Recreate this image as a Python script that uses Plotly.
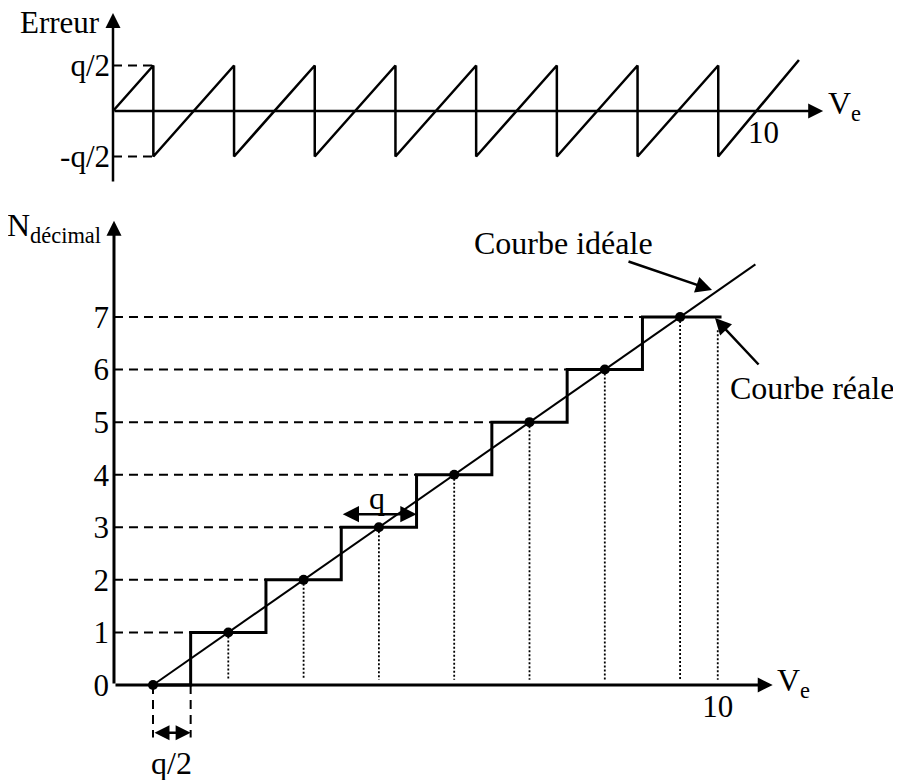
import plotly.graph_objects as go

# ---------------- DATA ----------------
# Bottom panel: transfer characteristic of a 3-bit converter (x in units of q)
codes = [0, 1, 2, 3, 4, 5, 6, 7]
code_labels = ["0", "1", "2", "3", "4", "5", "6", "7"]
ideal_points_x = [0, 1, 2, 3, 4, 5, 6, 7]
ideal_points_y = [0, 1, 2, 3, 4, 5, 6, 7]
transitions_x = [0.5, 1.5, 2.5, 3.5, 4.5, 5.5, 6.5]
stair_x = [0, 0.5, 0.5, 1.5, 1.5, 2.5, 2.5, 3.5, 3.5, 4.5, 4.5, 5.5, 5.5, 6.5, 6.5, 7.55]
stair_y = [0, 0, 1, 1, 2, 2, 3, 3, 4, 4, 5, 5, 6, 6, 7, 7]
ideal_line_x = [0, 8]
ideal_line_y = [0, 8]
full_scale_x = 7.5
full_scale_top = 6.75
full_scale_label = "10"

# Top panel: quantisation error (x in units of q, error in units of q)
err_x = [0, 0.5, 0.5, 1.5, 1.5, 2.5, 2.5, 3.5, 3.5, 4.5, 4.5, 5.5, 5.5, 6.5, 6.5, 7.5, 7.5, 8.5]
err_y = [0, 0.5, -0.5, 0.5, -0.5, 0.5, -0.5, 0.5, -0.5, 0.5, -0.5, 0.5, -0.5, 0.5, -0.5, 0.5, -0.5, 0.56]
err_ticks = [0.5, -0.5]
err_tick_labels = ["q/2", "-q/2"]
err_full_scale_x = 8
err_full_scale_label = "10"

# ---------------- STYLE / LAYOUT ----------------
PAGE_MARGIN = 8                      # default body margin of the html page
W, H = 901 - PAGE_MARGIN, 780 - PAGE_MARGIN
FONT = "Liberation Serif"
FS_TICK = 31
FS_TEXT = 32
BLACK = "black"


def make_range(origin_px, scale_px, size_px, invert=False):
    """Axis range so that data 0 sits at origin_px (window pixels) with scale_px per unit."""
    o = origin_px - PAGE_MARGIN
    if invert:  # vertical axis, pixels grow downward
        return [(o - size_px) / scale_px, o / scale_px]
    return [-o / scale_px, (size_px - o) / scale_px]


# bottom panel scales
bx_range = make_range(153, 75.3, W)
by_range = make_range(685, 52.57, H, invert=True)
# top panel scales
tx_range = make_range(113, 80.7, W)
ty_range = make_range(111, 91.0, H, invert=True)

B_YAXIS_X = -0.518      # x position of bottom vertical axis
B_XAXIS_END = 8.23
B_YAXIS_END = 8.83
T_XAXIS_END = 8.80
T_YAXIS_END = 1.077
T_YAXIS_START = -0.79


def frac(v, r):
    return (v - r[0]) / (r[1] - r[0])


fig = go.Figure()

# ---- top panel ----
fig.add_trace(go.Scatter(x=err_x, y=err_y, mode="lines", xaxis="x2", yaxis="y2",
                         line=dict(color=BLACK, width=2.5), hoverinfo="skip"))
dx, dy = [], []
for t in err_ticks:
    dx += [0, err_x[1], None]
    dy += [t, t, None]
fig.add_trace(go.Scatter(x=dx, y=dy, mode="lines", xaxis="x2", yaxis="y2",
                         line=dict(color=BLACK, width=2, dash="9px,6px"), hoverinfo="skip"))

# ---- bottom panel ----
hx, hy = [], []
for c, tx in zip(codes[1:], transitions_x):
    hx += [B_YAXIS_X, tx, None]
    hy += [c, c, None]
for v in [ideal_points_x[0], transitions_x[0]]:
    hx += [v, v, None]
    hy += [0, -1.0, None]
fig.add_trace(go.Scatter(x=hx, y=hy, mode="lines", line=dict(color=BLACK, width=2, dash="9px,6px"),
                         hoverinfo="skip"))
vx, vy = [], []
for px_, py_ in zip(ideal_points_x[1:], ideal_points_y[1:]):
    vx += [px_, px_, None]
    vy += [py_, 0.1, None]
vx += [full_scale_x, full_scale_x, None]
vy += [full_scale_top, 0.1, None]
fig.add_trace(go.Scatter(x=vx, y=vy, mode="lines", line=dict(color=BLACK, width=1.8, dash="2px,2px"),
                         hoverinfo="skip"))
fig.add_trace(go.Scatter(x=stair_x, y=stair_y, mode="lines", line=dict(color=BLACK, width=3),
                         hoverinfo="skip"))
fig.add_trace(go.Scatter(x=ideal_line_x, y=ideal_line_y, mode="lines", line=dict(color=BLACK, width=2),
                         hoverinfo="skip"))
fig.add_trace(go.Scatter(x=ideal_points_x, y=ideal_points_y, mode="markers",
                         marker=dict(color=BLACK, size=10), hoverinfo="skip"))

ann = []


def arrow(x, y, ax, ay, xr, yr, both=False, width=2.5, size=1.2):
    d = dict(x=x, y=y, ax=ax, ay=ay, xref=xr, yref=yr, axref=xr, ayref=yr, text="",
             showarrow=True, arrowhead=2, arrowsize=size, arrowwidth=width, arrowcolor=BLACK,
             standoff=0, startstandoff=0)
    if both:
        d.update(arrowside="end+start", startarrowhead=2, startarrowsize=size)
    ann.append(d)


def label(text, x, y, xr, yr, xanchor="center", yanchor="middle", size=FS_TEXT):
    ann.append(dict(text=text, x=x, y=y, xref=xr, yref=yr, showarrow=False,
                    xanchor=xanchor, yanchor=yanchor, font=dict(family=FONT, size=size, color=BLACK)))


# axes arrows
arrow(0, T_YAXIS_END, 0, T_YAXIS_START, "x2", "y2", width=2.5, size=1.2)
arrow(T_XAXIS_END, 0, 0, 0, "x2", "y2", width=2.5, size=1.2)
arrow(B_YAXIS_X, B_YAXIS_END, B_YAXIS_X, 0, "x", "y", width=3, size=1.0)
arrow(B_XAXIS_END, 0, B_YAXIS_X, 0, "x", "y", width=3, size=1.0)

# q and q/2 double arrows
arrow(transitions_x[3], 3.25, transitions_x[2], 3.25, "x", "y", both=True, width=2.5, size=1.3)
arrow(transitions_x[0], -0.91, ideal_points_x[0], -0.91, "x", "y", both=True, width=2.5, size=1.2)

# annotation arrows
arrow(7.424, 7.514, 6.295, 8.065, "x", "y", width=2.5, size=1.3)
arrow(7.463, 6.981, 8.061, 6.068, "x", "y", width=2.5, size=1.3)

# texts
label("Erreur", -0.14, 0.97, "x2", "y2", xanchor="right", size=31)
label("V<sub>e</sub>", 8.835, 0.06, "x2", "y2", xanchor="left")
label("N<sub>décimal</sub>", -0.664, 8.70, "x", "y", xanchor="right")
label("V<sub>e</sub>", 8.26, 0.04, "x", "y", xanchor="left")
label("q", 2.975, 3.56, "x", "y")
label("q/2", 0.252, -1.48, "x", "y")
label("Courbe idéale", 5.452, 8.41, "x", "y")
label("Courbe réale", 8.75, 5.65, "x", "y")

tickfont = dict(family=FONT, size=FS_TICK, color=BLACK)
common = dict(showgrid=False, zeroline=False, showline=False, ticks="", fixedrange=True)

fig.update_layout(
    width=W, height=H, margin=dict(l=0, r=0, t=0, b=0),
    paper_bgcolor="white", plot_bgcolor="rgba(0,0,0,0)", showlegend=False,
    xaxis=dict(range=bx_range, domain=[0, 1], anchor="free", position=frac(0, by_range),
               tickvals=[full_scale_x], ticktext=[full_scale_label], tickfont=tickfont, **common),
    yaxis=dict(range=by_range, domain=[0, 1], anchor="free", position=frac(B_YAXIS_X, bx_range),
               tickvals=codes, ticktext=code_labels, tickfont=tickfont, ticklabelstandoff=5, **common),
    xaxis2=dict(range=tx_range, domain=[0, 1], anchor="free", position=frac(0, ty_range),
                tickvals=[err_full_scale_x], ticktext=[err_full_scale_label], tickfont=tickfont,
                ticklabelshift=5, **common),
    yaxis2=dict(range=ty_range, domain=[0, 1], anchor="free", position=frac(0, tx_range),
                tickvals=err_ticks, ticktext=err_tick_labels, tickfont=tickfont, ticklabelstandoff=3,
                **common),
    annotations=ann,
)

fig.write_html("out.html")
